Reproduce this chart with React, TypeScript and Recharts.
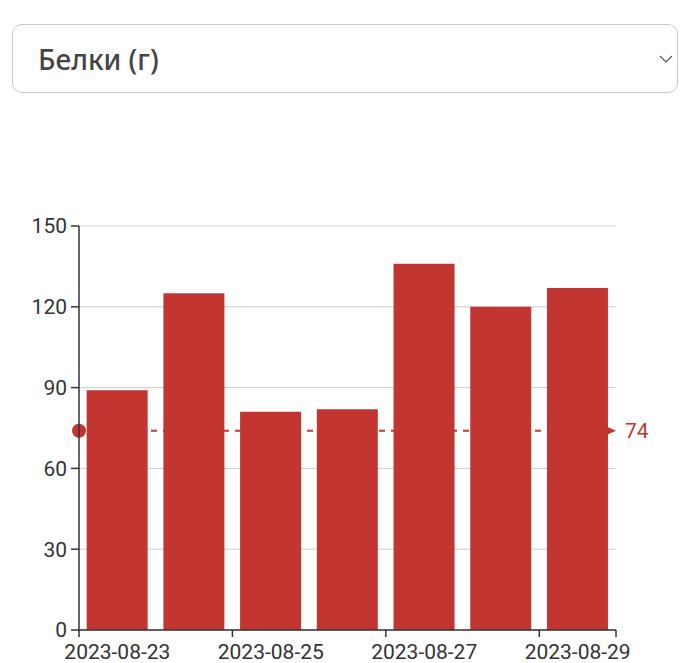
import { Bar, BarChart, CartesianGrid, ReferenceLine, XAxis, YAxis } from "recharts";

const dates = [
  "2023-08-23",
  "2023-08-24",
  "2023-08-25",
  "2023-08-26",
  "2023-08-27",
  "2023-08-28",
  "2023-08-29",
];
const proteinGrams = [89, 125, 81, 82, 136, 120, 127];
const yTicks = [0, 30, 60, 90, 120, 150];
const targetGrams = 74;
const selectedNutrient = "Белки (г)";

const RED = "#c23531";
const AXIS = "#333";
const FONT = "Roboto, sans-serif";

const CHART_W = 680;
const CHART_H = 463;
const MARGIN = { top: 26, right: 64, left: 0, bottom: 0 };
const Y_WIDTH = 79;

const chartData = dates.map((date, i) => ({ date, value: proteinGrams[i] }));

function DateTick(props: any) {
  const { x, y, payload, index } = props;
  const fallback = (CHART_W - Y_WIDTH - MARGIN.right) / dates.length / 2;
  const half = payload?.offset || fallback;
  const last = index === dates.length - 1;
  if (index % 2 !== 0) return <g />;
  return (
    <g>
      <line x1={x - half} y1={y} x2={x - half} y2={y + 7} stroke={AXIS} strokeWidth={1.5} />
      {last && (
        <line x1={x + half} y1={y} x2={x + half} y2={y + 7} stroke={AXIS} strokeWidth={1.5} />
      )}
      <text x={x} y={y + 29} textAnchor="middle" fill={AXIS} fontSize={21} fontFamily={FONT}>
        {payload.value}
      </text>
    </g>
  );
}

function TargetLine(props: any) {
  const { x1, y1, x2, y2 } = props;
  return (
    <g>
      <line
        x1={x1}
        y1={y1}
        x2={x2 - 6}
        y2={y2}
        stroke={RED}
        strokeWidth={2}
        strokeDasharray="6 6"
      />
      <circle cx={x1} cy={y1} r={7} fill={RED} />
      <path d={`M${x2 - 9},${y2 - 4} L${x2},${y2} L${x2 - 9},${y2 + 4} Z`} fill={RED} />
    </g>
  );
}

export default function App() {
  return (
    <div
      style={{
        position: "absolute",
        left: 0,
        top: 0,
        width: 680,
        height: 663,
        overflow: "hidden",
        background: "#fff",
      }}
    >
      <style>{"body{margin:0;overflow:hidden}"}</style>
      <div
        style={{
          position: "absolute",
          left: 12,
          top: 24,
          width: 666,
          height: 69,
          boxSizing: "border-box",
          border: "1px solid #c9c9c9",
          borderRadius: 10,
          display: "flex",
          alignItems: "center",
          paddingLeft: 25,
          fontFamily: "'Noto Sans', sans-serif",
          fontSize: 28,
          fontWeight: 500,
          color: "#444",
        }}
      >
        {selectedNutrient}
        <svg width={14} height={10} style={{ position: "absolute", right: 4, top: 29 }}>
          <path d="M1,2 L7,8 L13,2" fill="none" stroke="#555" strokeWidth={1.2} />
        </svg>
      </div>
      <div style={{ position: "absolute", left: 0, top: 200 }}>
        <BarChart
          width={CHART_W}
          height={CHART_H}
          data={chartData}
          margin={MARGIN}
          barCategoryGap="10%"
        >
          <CartesianGrid stroke="#ccc" vertical={false} />
          <XAxis
            dataKey="date"
            interval={0}
            tickLine={false}
            tickSize={0}
            tickMargin={0}
            height={33}
            axisLine={{ stroke: AXIS, strokeWidth: 1.5 }}
            tick={<DateTick />}
          />
          <YAxis
            width={Y_WIDTH}
            domain={[0, 150]}
            ticks={yTicks}
            tickSize={8}
            tickMargin={4}
            axisLine={{ stroke: AXIS, strokeWidth: 1.5 }}
            tickLine={{ stroke: AXIS, strokeWidth: 1.5 }}
            tick={{ fill: AXIS, fontSize: 21, fontFamily: FONT }}
          />
          <ReferenceLine
            y={targetGrams}
            shape={TargetLine}
            label={{ value: targetGrams, position: "right", offset: 9, fill: RED, fontSize: 21, fontFamily: FONT }}
          />
          <Bar dataKey="value" fill={RED} isAnimationActive={false} />
        </BarChart>
      </div>
    </div>
  );
}
